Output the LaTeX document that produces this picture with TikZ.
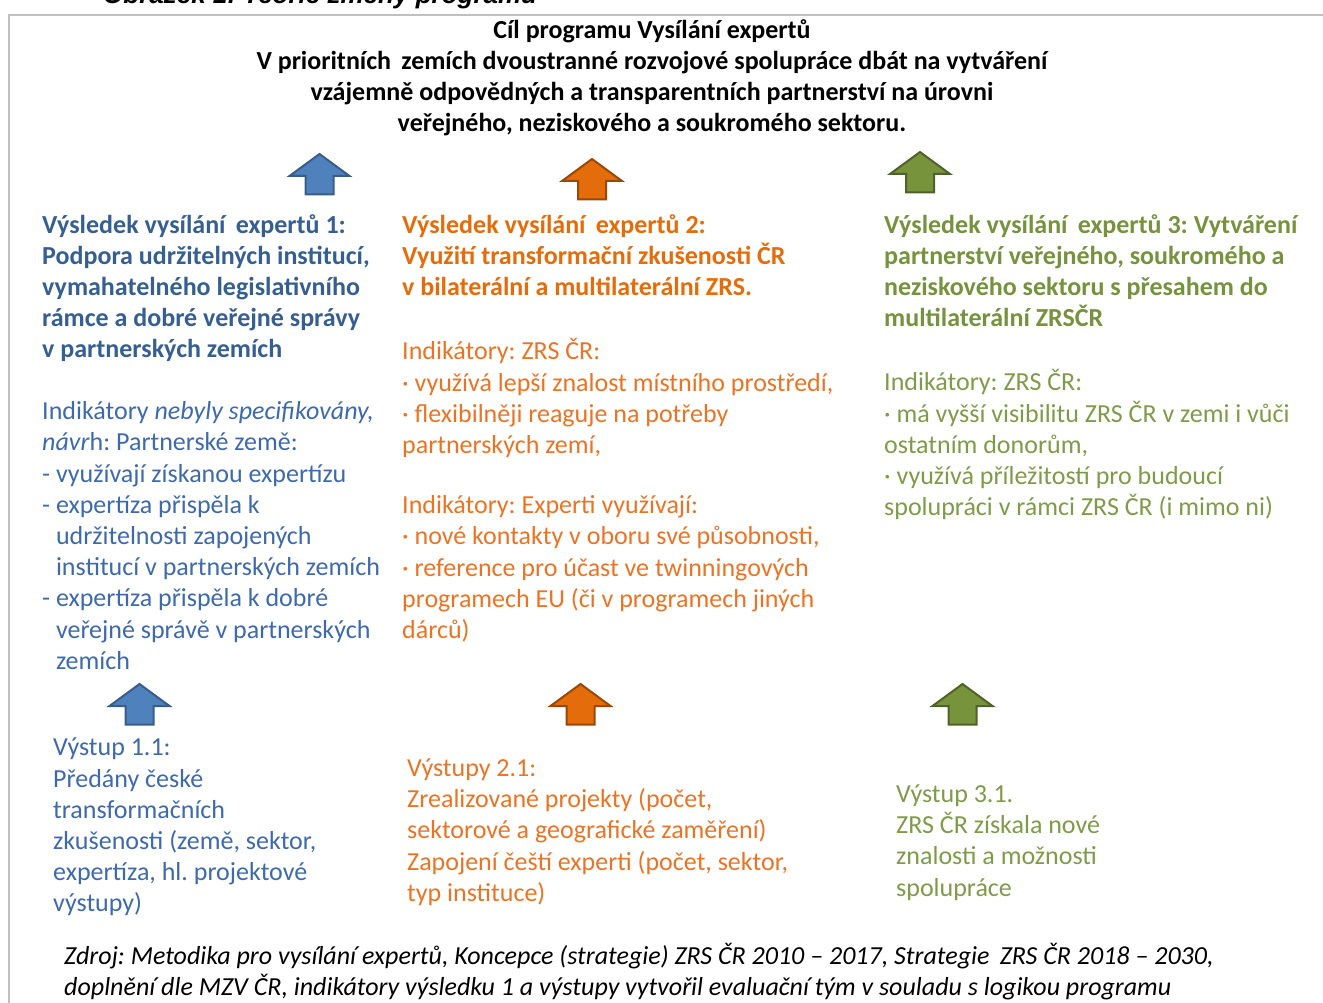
\documentclass[tikz,border=0pt]{standalone}
\usepackage{fontspec}
\setmainfont{Carlito}
\newfontfamily\capfont{Liberation Sans}
\frenchspacing

\definecolor{bluehead}{HTML}{365F91}
\definecolor{bluetext}{HTML}{3D69AD}
\definecolor{bluefill}{HTML}{4F81BD}
\definecolor{blueedge}{HTML}{385D8A}
\definecolor{orangehead}{HTML}{E46C0A}
\definecolor{orangetext}{HTML}{EA7423}
\definecolor{orangefill}{HTML}{E46C0A}
\definecolor{orangeedge}{HTML}{984807}
\definecolor{greenhead}{HTML}{76923C}
\definecolor{greentext}{HTML}{7F9A48}
\definecolor{greenfill}{HTML}{77933C}
\definecolor{greenedge}{HTML}{4F6228}
\definecolor{framegray}{HTML}{C0C0C0}

\tikzset{
    txt/.style={anchor=north west, inner sep=0pt, align=left,
        font=\fontsize{26}{31.2}\selectfont},
    headtxt/.style={txt, font=\fontsize{26}{31.2}\selectfont\bfseries},
    bluearr/.style={fill=bluefill, draw=blueedge, line width=2pt, line join=miter},
    orangearr/.style={fill=orangefill, draw=orangeedge, line width=2pt, line join=miter},
    greenarr/.style={fill=greenfill, draw=greenedge, line width=2pt, line join=miter}
}

\begin{document}
\begin{tikzpicture}[x=1pt, y=-1pt]

        \useasboundingbox (0,0) rectangle (1323,1003);

        % Caption (cut off at the top)
        \node[anchor=base west, inner sep=0pt, font=\capfont\fontsize{26}{30}\selectfont\bfseries\itshape] (caption) at (103,4)
            {Obrázek 1: Teorie změny programu};

        % Frame
        \draw[framegray, line width=2pt] (1323,15) -- (9,15) -- (9,1003);

        % Goal
        \node[headtxt, anchor=north, align=center] (goal) at (652,19)
            {Cíl programu Vysílání expertů\\
             V prioritních\,\ zemích dvoustranné rozvojové spolupráce dbát na vytváření\\
             vzájemně odpovědných a transparentních partnerství na úrovni\\
             veřejného, neziskového a soukromého sektoru.};

        % Block arrows
        \foreach \cx/\ty/\kind in {319.5/154/bluearr, 592/159/orangearr, 920/152/greenarr,
                139.5/684/bluearr, 580.5/684/orangearr, 962.5/684/greenarr}
            \draw[\kind] (\cx,\ty) -- ++(30,22) -- ++(-16,0) -- ++(0,18.5) -- ++(-28,0)
                -- ++(0,-18.5) -- ++(-16,0) -- cycle;

        % Result 1
        \node[headtxt, bluehead] (res1) at (42,214)
            {Výsledek vysílání\,\ expertů 1:\\
             Podpora udržitelných institucí,\\
             vymahatelného legislativního\\
             rámce a dobré veřejné správy\\
             v partnerských zemích};
        \node[txt, bluetext] (ind1) at (42,401.5)
            {Indikátory \textit{nebyly specifikovány,}\\
             \textit{návr}h: Partnerské země:\\
             - využívají získanou expertízu\\
             - expertíza přispěla k\\
             \phantom{- }udržitelnosti zapojených\\
             \phantom{- }institucí v partnerských zemích\\
             - expertíza přispěla k dobré\\
             \phantom{- }veřejné správě v partnerských\\
             \phantom{- }zemích};

        % Result 2
        \node[headtxt, orangehead] (res2) at (402,214)
            {Výsledek vysílání\,\ expertů 2:\\
             Využití transformační zkušenosti ČR\\
             v bilaterální a multilaterální ZRS.};
        \node[txt, orangetext] (ind2a) at (402,338.5)
            {Indikátory: ZRS ČR:\\
             · využívá lepší znalost místního prostředí,\\
             · flexibilněji reaguje\ na potřeby\\
             partnerských zemí,};
        \node[txt, orangetext] (ind2b) at (402,495.5)
            {Indikátory: Experti využívají:\\
             · nové kontakty v oboru své působnosti,\\
             · reference pro účast ve twinningových\\
             programech EU (či v programech jiných\\
             dárců)};

        % Result 3
        \node[headtxt, greenhead] (res3) at (884,214)
            {Výsledek vysílání\,\ expertů 3: Vytváření\\
             partnerství veřejného, soukromého a\\
             neziskového sektoru s přesahem do\\
             multilaterální ZRSČR};
        \node[txt, greentext] (ind3) at (884,369.5)
            {Indikátory: ZRS ČR:\\
             · má vyšší visibilitu ZRS ČR v zemi i vůči\\
             ostatním donorům,\\
             · využívá příležitostí pro budoucí\\
             spolupráci v rámci ZRS ČR (i mimo ni)};

        % Outputs
        \node[txt, bluetext] (out1) at (53,738)
            {Výstup 1.1:\\
             Předány české\\
             transformačních\\
             zkušenosti (země, sektor,\\
             expertíza, hl. projektové\\
             výstupy)};
        \node[txt, orangetext] (out2) at (407,758.5)
            {Výstupy 2.1:\\
             Zrealizované projekty (počet,\\
             sektorové a geografické\ zaměření)\\
             Zapojení čeští experti (počet, sektor,\\
             typ instituce)};
        \node[txt, greentext] (out3) at (896,784.5)
            {Výstup 3.1.\\
             ZRS ČR získala nové\\
             znalosti a možnosti\\
             spolupráce};

        % Source
        \node[txt, font=\fontsize{26}{31.5}\selectfont\itshape] (source) at (64,943)
            {Zdroj: Metodika pro vysílání expertů, Koncepce (strategie) ZRS ČR 2010 – 2017, Strategie\,\ ZRS ČR 2018 – 2030,\\
             doplnění dle MZV ČR, indikátory výsledku 1 a výstupy vytvořil evaluační tým v souladu s logikou programu};

    \end{tikzpicture}
\end{document}
